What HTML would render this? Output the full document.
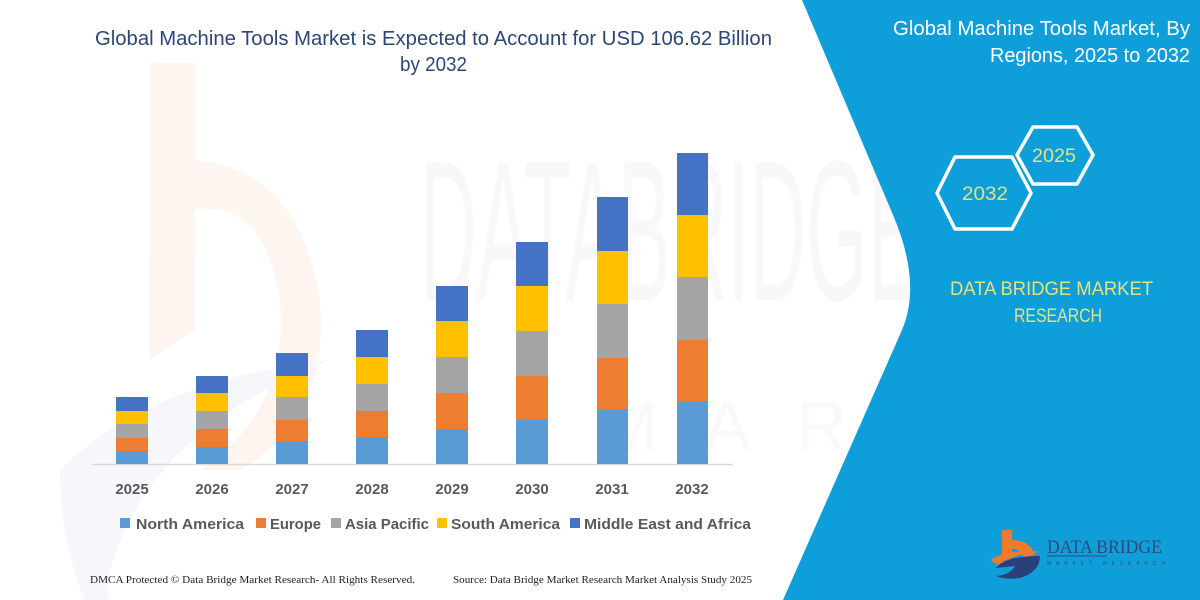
<!DOCTYPE html>
<html><head><meta charset="utf-8"><style>
html,body{margin:0;padding:0;background:#fff;}
svg{display:block;}
</style></head><body>
<svg width="1200" height="600" viewBox="0 0 1200 600" xmlns="http://www.w3.org/2000/svg">
<rect width="1200" height="600" fill="#ffffff"/>
<!-- faint watermarks -->
<g opacity="0.45">
<path d="M150,63 L195,63 L195,160 Q300,170 320,300 Q330,420 240,470 L200,470 Q290,410 280,300 Q265,200 195,210 L195,330 L150,360 Z" fill="#fdebe0"/>
<path d="M60,470 Q150,380 330,360 Q180,420 130,520 Q100,580 110,600 L85,600 Q60,540 60,470 Z" fill="#e9eef5"/>
</g>
<text x="420" y="300" font-family="Liberation Sans, sans-serif" font-size="200" fill="#f8f8f8" textLength="500" lengthAdjust="spacingAndGlyphs">DATABRIDGE</text>
<text x="600" y="450" font-family="Liberation Sans, sans-serif" font-size="70" fill="#f9f9f9" textLength="520" lengthAdjust="spacing">MARKET</text>

<!-- blue panel -->
<path d="M802,0 L893,215 Q922,283 902,330 L783,600 L1200,600 L1200,0 Z" fill="#0e9fdb"/>

<!-- title -->
<text x="95" y="45" font-family="Liberation Sans, sans-serif" font-size="20" fill="#2d4677" textLength="677" lengthAdjust="spacingAndGlyphs">Global Machine Tools Market is Expected to Account for USD 106.62 Billion</text>
<text x="400" y="71" font-family="Liberation Sans, sans-serif" font-size="20" fill="#2d4677" textLength="67" lengthAdjust="spacingAndGlyphs">by 2032</text>

<!-- axis -->
<line x1="92" y1="464.5" x2="733" y2="464.5" stroke="#d9d9d9" stroke-width="1.5"/>

<!-- bars -->
<g>
<rect x="116" y="451" width="32" height="13" fill="#5b9bd5"/>
<rect x="116" y="438" width="32" height="13" fill="#ed7d31"/>
<rect x="116" y="424" width="32" height="14" fill="#a5a5a5"/>
<rect x="116" y="411" width="32" height="13" fill="#ffc000"/>
<rect x="116" y="397" width="32" height="14" fill="#4472c4"/>
<rect x="196" y="447" width="32" height="17" fill="#5b9bd5"/>
<rect x="196" y="429" width="32" height="18" fill="#ed7d31"/>
<rect x="196" y="411" width="32" height="18" fill="#a5a5a5"/>
<rect x="196" y="393" width="32" height="18" fill="#ffc000"/>
<rect x="196" y="376" width="32" height="17" fill="#4472c4"/>
<rect x="276" y="442" width="32" height="22" fill="#5b9bd5"/>
<rect x="276" y="420" width="32" height="22" fill="#ed7d31"/>
<rect x="276" y="397" width="32" height="23" fill="#a5a5a5"/>
<rect x="276" y="376" width="32" height="21" fill="#ffc000"/>
<rect x="276" y="353" width="32" height="23" fill="#4472c4"/>
<rect x="356" y="437" width="32" height="27" fill="#5b9bd5"/>
<rect x="356" y="411" width="32" height="26" fill="#ed7d31"/>
<rect x="356" y="384" width="32" height="27" fill="#a5a5a5"/>
<rect x="356" y="357" width="32" height="27" fill="#ffc000"/>
<rect x="356" y="330" width="32" height="27" fill="#4472c4"/>
<rect x="436" y="429" width="32" height="35" fill="#5b9bd5"/>
<rect x="436" y="393" width="32" height="36" fill="#ed7d31"/>
<rect x="436" y="357" width="32" height="36" fill="#a5a5a5"/>
<rect x="436" y="321" width="32" height="36" fill="#ffc000"/>
<rect x="436" y="286" width="32" height="35" fill="#4472c4"/>
<rect x="516" y="420" width="32" height="44" fill="#5b9bd5"/>
<rect x="516" y="376" width="32" height="44" fill="#ed7d31"/>
<rect x="516" y="331" width="32" height="45" fill="#a5a5a5"/>
<rect x="516" y="286" width="32" height="45" fill="#ffc000"/>
<rect x="516" y="242" width="32" height="44" fill="#4472c4"/>
<rect x="597" y="410" width="31" height="54" fill="#5b9bd5"/>
<rect x="597" y="358" width="31" height="52" fill="#ed7d31"/>
<rect x="597" y="304" width="31" height="54" fill="#a5a5a5"/>
<rect x="597" y="251" width="31" height="53" fill="#ffc000"/>
<rect x="597" y="197" width="31" height="54" fill="#4472c4"/>
<rect x="677" y="402" width="31" height="62" fill="#5b9bd5"/>
<rect x="677" y="340" width="31" height="62" fill="#ed7d31"/>
<rect x="677" y="277" width="31" height="63" fill="#a5a5a5"/>
<rect x="677" y="215" width="31" height="62" fill="#ffc000"/>
<rect x="677" y="153" width="31" height="62" fill="#4472c4"/>
</g>

<!-- year labels -->
<g font-family="Liberation Sans, sans-serif" font-size="15" font-weight="bold" fill="#595959" text-anchor="middle">
<text x="132" y="494">2025</text>
<text x="212" y="494">2026</text>
<text x="292" y="494">2027</text>
<text x="372" y="494">2028</text>
<text x="452" y="494">2029</text>
<text x="532" y="494">2030</text>
<text x="612" y="494">2031</text>
<text x="692" y="494">2032</text>
</g>

<!-- legend -->
<g font-family="Liberation Sans, sans-serif" font-size="15" font-weight="bold" fill="#595959">
<rect x="120" y="518" width="10" height="10" fill="#5b9bd5"/>
<text x="136" y="529" textLength="108" lengthAdjust="spacingAndGlyphs">North America</text>
<rect x="256" y="518" width="10" height="10" fill="#ed7d31"/>
<text x="270" y="529" textLength="51" lengthAdjust="spacingAndGlyphs">Europe</text>
<rect x="331" y="518" width="10" height="10" fill="#a5a5a5"/>
<text x="345" y="529" textLength="84" lengthAdjust="spacingAndGlyphs">Asia Pacific</text>
<rect x="437" y="518" width="10" height="10" fill="#ffc000"/>
<text x="451" y="529" textLength="109" lengthAdjust="spacingAndGlyphs">South America</text>
<rect x="570" y="518" width="10" height="10" fill="#4472c4"/>
<text x="584" y="529" textLength="167" lengthAdjust="spacingAndGlyphs">Middle East and Africa</text>
</g>

<!-- footer -->
<g font-family="Liberation Serif, serif" font-size="10" fill="#222">
<text x="90" y="583" textLength="325" lengthAdjust="spacingAndGlyphs">DMCA Protected © Data Bridge Market Research-  All Rights Reserved.</text>
<text x="453" y="583" textLength="299" lengthAdjust="spacingAndGlyphs">Source: Data Bridge Market Research  Market Analysis Study 2025</text>
</g>

<!-- right panel titles -->
<g font-family="Liberation Sans, sans-serif" font-size="20" fill="#ffffff" text-anchor="end">
<text x="1190" y="35" textLength="297" lengthAdjust="spacingAndGlyphs">Global Machine Tools Market, By</text>
<text x="1190" y="62" textLength="200" lengthAdjust="spacingAndGlyphs">Regions, 2025 to 2032</text>
</g>

<!-- hexagons -->
<g fill="none" stroke="#ffffff" stroke-width="3.5" stroke-linejoin="round">
<polygon points="937,193 955,157 1012,157 1031,193 1012,229 955,229"/>
<polygon points="1017,155 1033,127 1077,127 1093,155 1077,184 1033,184"/>
</g>
<g font-family="Liberation Sans, sans-serif" font-size="19" fill="#e6e27a" text-anchor="middle">
<text x="985" y="200" textLength="46" lengthAdjust="spacingAndGlyphs">2032</text>
<text x="1054" y="162" textLength="44" lengthAdjust="spacingAndGlyphs">2025</text>
</g>

<!-- DBMR yellow text -->
<g font-family="Liberation Sans, sans-serif" font-size="19" fill="#e6e27a">
<text x="950" y="295" textLength="203" lengthAdjust="spacingAndGlyphs">DATA BRIDGE MARKET</text>
<text x="1014" y="322" textLength="88" lengthAdjust="spacingAndGlyphs">RESEARCH</text>
</g>

<!-- logo -->
<g>
<path d="M1002,530 L1012,530 L1012,540 Q1030,540 1035,555 L1024,557 Q1020,548 1012,549 L1012,556 L1002,558 Z" fill="#f07a2a"/>
<path d="M990,560 Q1010,548 1042,552 Q1015,553 998,565 Z" fill="#f07a2a"/>
<path d="M996,568 Q1005,556 1040,556 Q1040,572 1020,578 Q1005,580 996,576 Q1010,575 1015,566 Z" fill="#2b3f7a"/>
<text x="1047" y="553" font-family="Liberation Serif, serif" font-size="19" fill="#33487a" textLength="115" lengthAdjust="spacingAndGlyphs">DATA BRIDGE</text>
<line x1="1047" y1="556" x2="1107" y2="556" stroke="#33487a" stroke-width="1"/>
<text x="1047" y="565" font-family="Liberation Sans, sans-serif" font-size="5" fill="#33487a" textLength="118" lengthAdjust="spacing">MARKET RESEARCH</text>
</g>
</svg>
</body></html>
